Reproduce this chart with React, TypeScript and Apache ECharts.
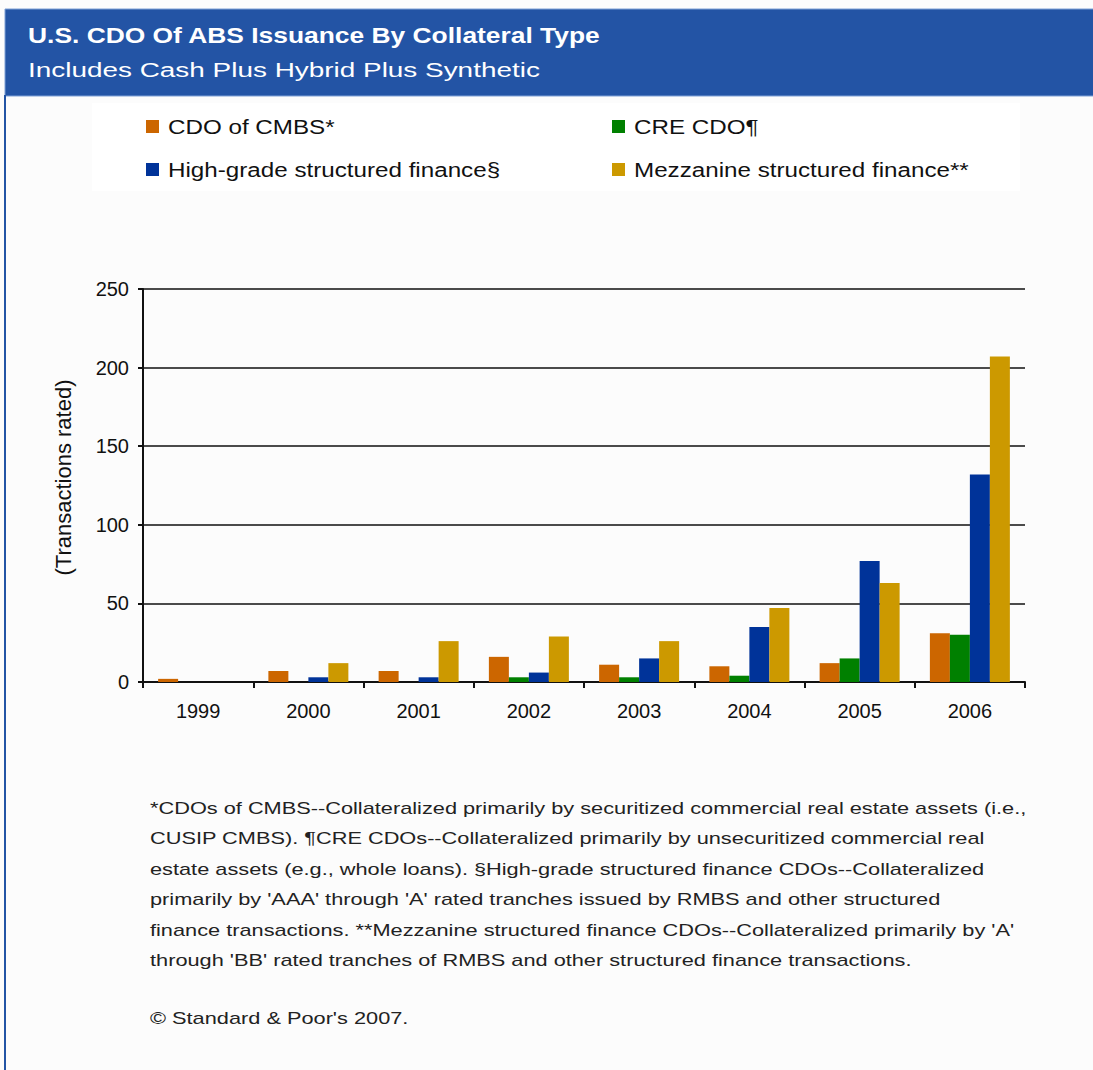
import React, { useEffect, useRef } from "react";
import * as echarts from "echarts";

// Issuance counts (transactions rated) per year and collateral type
const years = ["1999", "2000", "2001", "2002", "2003", "2004", "2005", "2006"];
const cdoOfCmbs = [2, 7, 7, 16, 11, 10, 12, 31];
const creCdo = [0, 0, 0, 3, 3, 4, 15, 30];
const highGrade = [0, 3, 3, 6, 15, 35, 77, 132];
const mezzanine = [0, 12, 26, 29, 26, 47, 63, 207];

const seriesNames = [
  "CDO of CMBS*",
  "CRE CDO¶",
  "High-grade structured finance§",
  "Mezzanine structured finance**",
];
const seriesColors = ["#CC6600", "#008000", "#003399", "#CC9900"];
const seriesValues = [cdoOfCmbs, creCdo, highGrade, mezzanine];

const yMin = 0;
const yMax = 250;
const yStep = 50;

const titleText = "U.S. CDO Of ABS Issuance By Collateral Type";
const subtitleText = "Includes Cash Plus Hybrid Plus Synthetic";
const yAxisName = "(Transactions rated)";
const footnoteLines = [
  "*CDOs of CMBS--Collateralized primarily by securitized commercial real estate assets (i.e.,",
  "CUSIP CMBS). ¶CRE CDOs--Collateralized primarily by unsecuritized commercial real",
  "estate assets (e.g., whole loans). §High-grade structured finance CDOs--Collateralized",
  "primarily by 'AAA' through 'A' rated tranches issued by RMBS and other structured",
  "finance transactions. **Mezzanine structured finance CDOs--Collateralized primarily by 'A'",
  "through 'BB' rated tranches of RMBS and other structured finance transactions.",
];
const copyrightText = "© Standard & Poor's 2007.";

const FONT = "'Liberation Sans', Arial, Helvetica, sans-serif";
const HEADER_BLUE = "#2354A5";

// legend laid out in two columns, two rows
const legendCols = [146, 612];
const legendRows = [126.5, 169.5];

export default function App() {
  const ref = useRef<HTMLDivElement>(null);

  useEffect(() => {
    if (!ref.current) return;
    const chart = echarts.init(ref.current, undefined, { renderer: "svg" });

    const footnoteGraphics = footnoteLines.map((line, i) => ({
      type: "text",
      x: 150,
      y: 808 + i * 30.4,
      scaleX: 1.28,
      style: {
        text: line,
        fill: "#222",
        font: `17px ${FONT}`,
        textVerticalAlign: "middle",
      },
    }));

    const legendGraphics: any[] = [];
    seriesNames.forEach((name, i) => {
      const x = legendCols[i % 2];
      const y = legendRows[Math.floor(i / 2)];
      legendGraphics.push({
        type: "rect",
        shape: { x, y: y - 6.5, width: 13, height: 13 },
        style: { fill: seriesColors[i] },
      });
      legendGraphics.push({
        type: "text",
        x: x + 22,
        y: y + 0.5,
        scaleX: 1.21,
        style: {
          text: name,
          fill: "#111",
          font: `20px ${FONT}`,
          textVerticalAlign: "middle",
        },
      });
    });

    chart.setOption({
      animation: false,
      backgroundColor: "#FCFCFC",
      textStyle: { fontFamily: FONT },
      graphic: [
        // header band
        {
          type: "rect",
          shape: { x: 5, y: 9, width: 1100, height: 87 },
          style: { fill: HEADER_BLUE, stroke: "#7FA0D6", lineWidth: 1 },
          z: -10,
        },
        // left frame line
        {
          type: "rect",
          shape: { x: 4, y: 95, width: 2, height: 980 },
          style: { fill: HEADER_BLUE },
          z: -10,
        },
        // legend panel
        {
          type: "rect",
          shape: { x: 92, y: 103, width: 928, height: 88 },
          style: { fill: "#FFFFFF" },
          z: -10,
        },
        {
          type: "text",
          x: 28,
          y: 35,
          scaleX: 1.2,
          style: {
            text: titleText,
            fill: "#FFFFFF",
            font: `bold 22px ${FONT}`,
            textVerticalAlign: "middle",
          },
        },
        {
          type: "text",
          x: 28,
          y: 70,
          scaleX: 1.33,
          style: {
            text: subtitleText,
            fill: "#FFFFFF",
            font: `21px ${FONT}`,
            textVerticalAlign: "middle",
          },
        },
        ...legendGraphics,
        ...footnoteGraphics,
        {
          type: "text",
          x: 150,
          y: 1018,
          scaleX: 1.28,
          style: {
            text: copyrightText,
            fill: "#222",
            font: `17px ${FONT}`,
            textVerticalAlign: "middle",
          },
        },
      ],
      grid: { left: 143, right: 68, top: 289, bottom: 388, containLabel: false },
      xAxis: {
        type: "category",
        data: years,
        axisLine: { lineStyle: { color: "#111", width: 2 } },
        axisTick: { show: true, length: 6, lineStyle: { color: "#111", width: 2 } },
        axisLabel: { fontSize: 20, color: "#111", margin: 19, fontFamily: FONT },
      },
      yAxis: {
        type: "value",
        min: yMin,
        max: yMax,
        interval: yStep,
        name: yAxisName,
        nameLocation: "middle",
        nameGap: 69,
        nameTextStyle: { fontSize: 22, color: "#111", fontFamily: FONT, padding: [0, 0, 0, 16] },
        axisLine: { show: true, lineStyle: { color: "#111", width: 2 } },
        axisTick: { show: true, length: 5, lineStyle: { color: "#111", width: 2 } },
        axisLabel: { fontSize: 20, color: "#111", margin: 14, fontFamily: FONT },
        splitLine: { show: true, lineStyle: { color: "#111", width: 1.5 } },
      },
      series: seriesNames.map((name, i) => ({
        name,
        type: "bar",
        data: seriesValues[i],
        barWidth: 20,
        barGap: "0%",
        itemStyle: { color: seriesColors[i] },
      })),
    });

    return () => chart.dispose();
  }, []);

  return (
    <div
      ref={ref}
      style={{ position: "absolute", left: 0, top: 0, width: 1093, height: 1070, background: "#FCFCFC" }}
    />
  );
}
